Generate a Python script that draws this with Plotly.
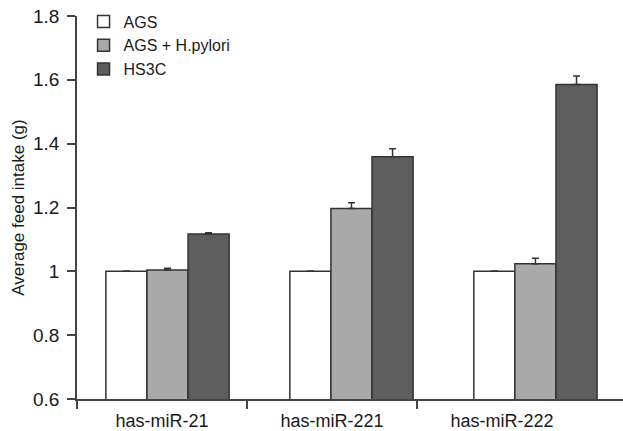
import plotly.graph_objects as go

categories = ["has-miR-21", "has-miR-221", "has-miR-222"]
series_names = ["AGS", "AGS + H.pylori", "HS3C"]
ags = [1.0, 1.0, 1.0]
ags_err = [0.001, 0.001, 0.001]
ags_hp = [1.004, 1.197, 1.024]
ags_hp_err = [0.006, 0.018, 0.017]
hs3c = [1.117, 1.359, 1.585]
hs3c_err = [0.004, 0.025, 0.027]
yticks = [0.6, 0.8, 1.0, 1.2, 1.4, 1.6, 1.8]

fills = ["#ffffff", "#a9a9a9", "#5e5e5e"]
edge = "#333333"
font = "Liberation Sans, Arial, sans-serif"

fig = go.Figure()
for name, vals, errs, col in zip(series_names, [ags, ags_hp, hs3c],
                                 [ags_err, ags_hp_err, hs3c_err], fills):
    fig.add_trace(go.Bar(
        x=categories, y=vals, name=name,
        marker=dict(color=col, line=dict(color=edge, width=1.5)),
        error_y=dict(type="data", array=errs, arrayminus=[0] * len(errs),
                     symmetric=False, color=edge, thickness=1.5, width=3.5),
        xaxis="x", yaxis="y",
    ))

# helper trace so the label axis is active
fig.add_trace(go.Scatter(x=[0], y=[None], xaxis="x2", yaxis="y",
                         showlegend=False, hoverinfo="skip"))

n = len(categories)
fig.update_layout(
    width=623, height=431,
    margin=dict(l=77, r=0, t=16, b=32),
    paper_bgcolor="white", plot_bgcolor="white",
    barmode="group", bargap=0.33, bargroupgap=0,
    font=dict(family=font, color="#222222"),
    showlegend=True,
    legend=dict(x=0.012, y=1.03, xanchor="left", yanchor="top",
                font=dict(size=16, family=font, color="#1a1a1a"),
                bgcolor="rgba(0,0,0,0)", itemwidth=30, tracegroupgap=0),
    xaxis=dict(type="category", range=[-0.492, 2.476], automargin=False,
               showticklabels=False, ticks="", showline=True,
               linecolor="#444444", linewidth=1.5, showgrid=False,
               zeroline=False, fixedrange=True),
    xaxis2=dict(overlaying="x", anchor="y", side="bottom", type="linear",
                range=[-0.5, -0.5 + 546 / 170], automargin=False,
                tickmode="array", tickvals=list(range(n)), ticktext=categories,
                ticks="", showline=False, showgrid=False, zeroline=False,
                ticklabelstandoff=9,
                tickfont=dict(size=18, family=font, color="#1a1a1a"),
                minor=dict(tickmode="array",
                           tickvals=[i - 0.5 for i in range(n)],
                           ticks="outside", ticklen=9, tickwidth=1.5,
                           tickcolor="#444444", showgrid=False)),
    yaxis=dict(range=[0.6, 1.8], tickmode="array", tickvals=yticks,
               ticktext=[f"{v:g}" for v in yticks],
               ticks="outside", ticklen=8, tickwidth=1.5, tickcolor="#444444",
               showline=True, linecolor="#444444", linewidth=1.5,
               showgrid=False, zeroline=False, ticklabelstandoff=4,
               tickfont=dict(size=19, family=font, color="#1a1a1a"),
               title=dict(text="Average feed intake (g)",
                          font=dict(size=17, family=font, color="#1a1a1a"),
                          standoff=4)),
)

fig.write_html("out.html", config={"displayModeBar": False},
               post_script="document.body.style.margin='0px';")
